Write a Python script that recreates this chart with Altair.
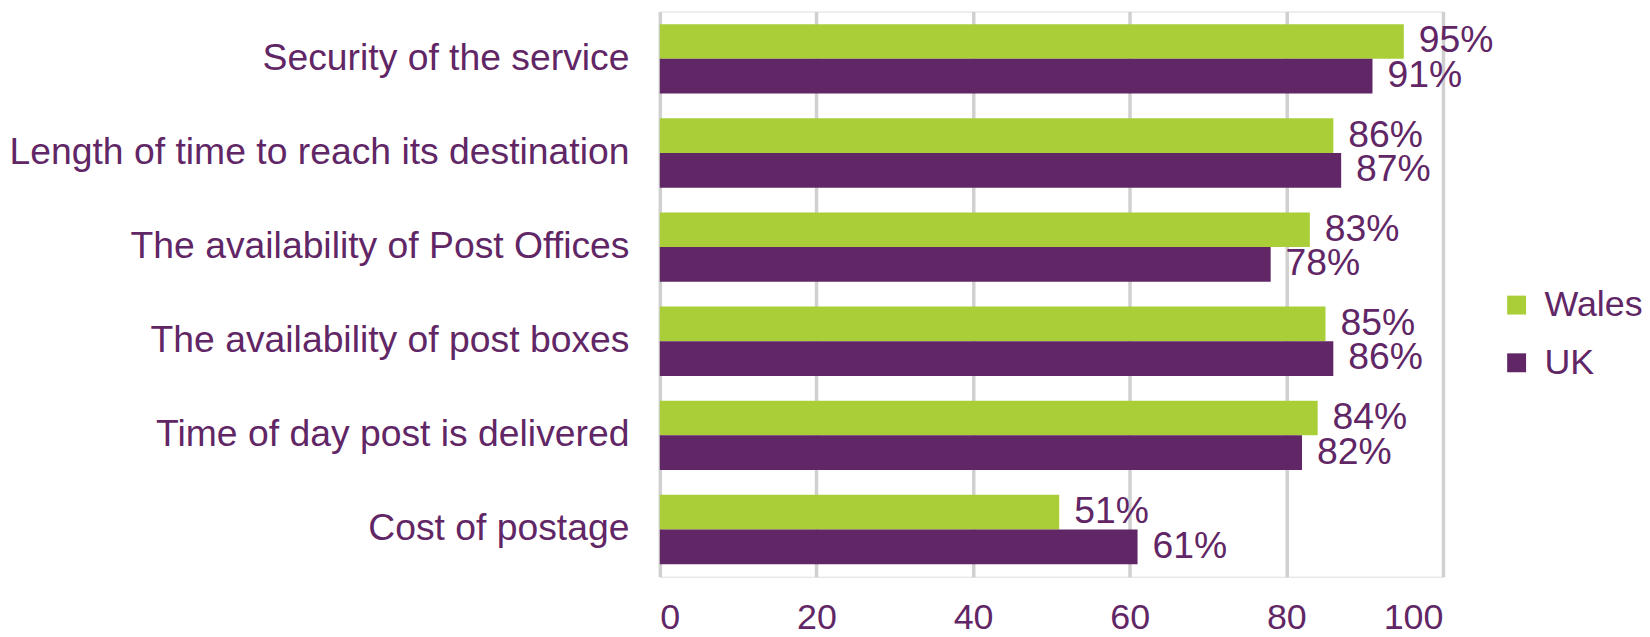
import altair as alt
import pandas as pd

categories = [
    "Security of the service",
    "Length of time to reach its destination",
    "The availability of Post Offices",
    "The availability of post boxes",
    "Time of day post is delivered",
    "Cost of postage",
]
wales = [95, 86, 83, 85, 84, 51]
uk = [91, 87, 78, 86, 82, 61]
series = ["Wales", "UK"]
x_ticks = [0, 20, 40, 60, 80, 100]

rows = []
for c, w, u in zip(categories, wales, uk):
    rows.append({"category": c, "series": "Wales", "value": w, "label": f"{w}%"})
    rows.append({"category": c, "series": "UK", "value": u, "label": f"{u}%"})
df = pd.DataFrame(rows)

PURPLE = "#612665"
GREEN = "#A9CE38"
FONT = "Liberation Sans"
FS = 36
FS_LABEL = 37.5

y_enc = alt.Y("category:N", sort=categories, title=None,
              scale=alt.Scale(paddingInner=0.263, paddingOuter=0.134),
              axis=alt.Axis(ticks=False, domain=False, labelFontSize=FS_LABEL,
                            labelColor=PURPLE, labelFont=FONT, labelPadding=31,
                            labelLimit=800, grid=False))
yoff = alt.YOffset("series:N", sort=series)

bars = alt.Chart(df).mark_bar().encode(
    x=alt.X("value:Q", title=None,
            scale=alt.Scale(domain=[0, 100], nice=False),
            axis=alt.Axis(values=x_ticks, ticks=False, domain=False,
                          labelFontSize=FS, labelColor=PURPLE, labelFont=FONT,
                          labelPadding=24, grid=True, gridColor="#d0d0d0",
                          gridWidth=3.5)),
    y=y_enc,
    yOffset=yoff,
    color=alt.Color("series:N", sort=series,
                    scale=alt.Scale(domain=series, range=[GREEN, PURPLE]),
                    legend=alt.Legend(title=None, orient="none", legendX=843,
                                      legendY=277, symbolType="square",
                                      symbolSize=361, symbolStrokeWidth=0,
                                      labelFontSize=FS, labelColor=PURPLE,
                                      labelFont=FONT, rowPadding=22,
                                      labelOffset=10, symbolOpacity=1)),
)

text = alt.Chart(df).mark_text(align="left", baseline="middle", dx=15,
                               fontSize=FS_LABEL, font=FONT, color=PURPLE).encode(
    x="value:Q",
    y=alt.Y("category:N", sort=categories),
    yOffset=yoff,
    text="label:N",
)

chart = (bars + text).properties(
    width=787, height=568,
    autosize=alt.AutoSizeParams(type="none"),
    padding={"left": 655, "top": 2, "right": 200, "bottom": 59},
).configure_view(strokeWidth=0).configure(background="white")

chart.save("out.html", embed_options={"renderer": "svg", "actions": False})
